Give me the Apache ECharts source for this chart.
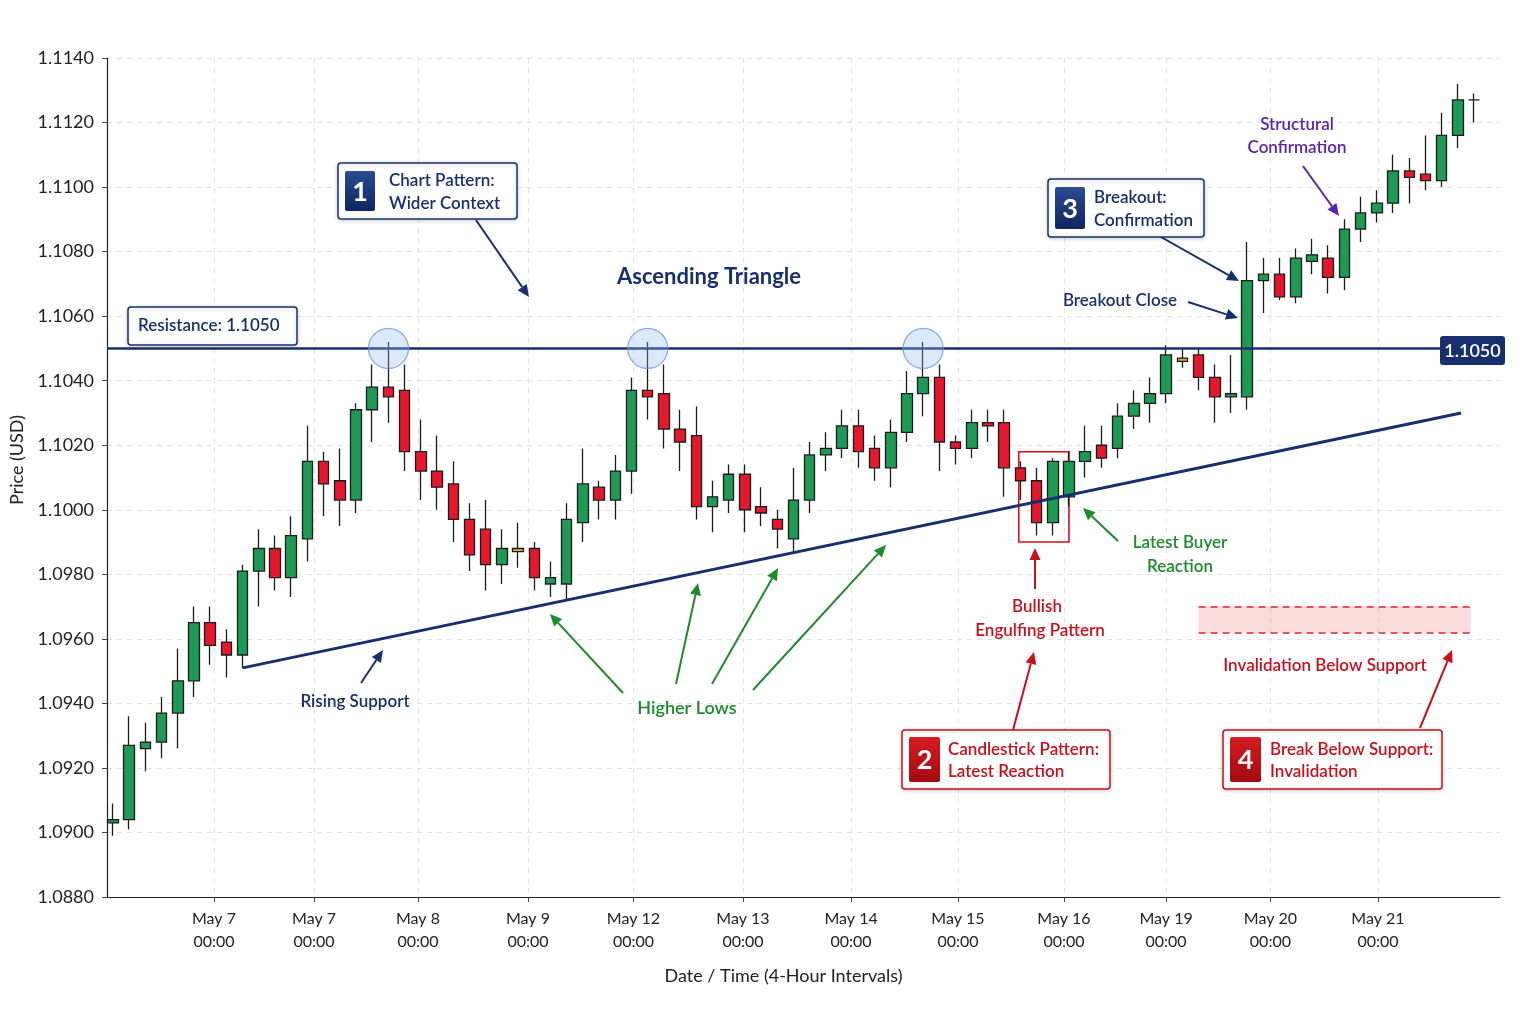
<!DOCTYPE html>
<html>
<head>
<meta charset="utf-8">
<title>Ascending Triangle</title>
<script src="https://cdn.jsdelivr.net/npm/echarts@6.0.0/dist/echarts.min.js"></script>
<style>
  html, body { margin: 0; padding: 0; background: #fff; }
  #chart { width: 1536px; height: 1024px; }
</style>
</head>
<body>
<div id="chart"></div>
<script>
// 4-hour candles (index = candle number)
const opens = [
  1.0903, 1.0904, 1.0926, 1.0928, 1.0937, 1.0947, 1.0965, 1.0959, 1.0955, 1.0981,
  1.0988, 1.0979, 1.0991, 1.1015, 1.1009, 1.1003, 1.1031, 1.1038, 1.1037, 1.1018,
  1.1012, 1.1008, 1.0997, 1.0994, 1.0983, 1.0988, 1.0988, 1.0977, 1.0977, 1.0996,
  1.1007, 1.1003, 1.1012, 1.1037, 1.1036, 1.1025, 1.1023, 1.1001, 1.1003, 1.1011,
  1.1001, 1.0997, 1.0991, 1.1003, 1.1017, 1.1019, 1.1026, 1.1019, 1.1013, 1.1024,
  1.1036, 1.1041, 1.1021, 1.1019, 1.1027, 1.1027, 1.1013, 1.1009, 1.0996, 1.1004,
  1.1015, 1.1020, 1.1019, 1.1029, 1.1033, 1.1036, 1.1047, 1.1048, 1.1041, 1.1035,
  1.1035, 1.1071, 1.1073, 1.1066, 1.1077, 1.1078, 1.1072, 1.1087, 1.1092, 1.1095,
  1.1105, 1.1104, 1.1102, 1.1116, 1.1127
];
const closes = [
  1.0904, 1.0927, 1.0928, 1.0937, 1.0947, 1.0965, 1.0958, 1.0955, 1.0981, 1.0988,
  1.0979, 1.0992, 1.1015, 1.1008, 1.1003, 1.1031, 1.1038, 1.1035, 1.1018, 1.1012,
  1.1007, 1.0997, 1.0986, 1.0983, 1.0988, 1.0987, 1.0979, 1.0979, 1.0997, 1.1008,
  1.1003, 1.1012, 1.1037, 1.1035, 1.1025, 1.1021, 1.1001, 1.1004, 1.1011, 1.1000,
  1.0999, 1.0994, 1.1003, 1.1017, 1.1019, 1.1026, 1.1018, 1.1013, 1.1024, 1.1036,
  1.1041, 1.1021, 1.1019, 1.1027, 1.1026, 1.1013, 1.1009, 1.0996, 1.1015, 1.1015,
  1.1018, 1.1016, 1.1029, 1.1033, 1.1036, 1.1048, 1.1046, 1.1041, 1.1035, 1.1036,
  1.1071, 1.1073, 1.1066, 1.1078, 1.1079, 1.1072, 1.1087, 1.1092, 1.1095, 1.1105,
  1.1103, 1.1102, 1.1116, 1.1127, 1.1127
];
const lows = [
  1.0899, 1.0901, 1.0919, 1.0923, 1.0926, 1.0942, 1.0952, 1.0948, 1.0951, 1.0970,
  1.0975, 1.0973, 1.0984, 1.0998, 1.0995, 1.0999, 1.1021, 1.1027, 1.1012, 1.1003,
  1.1000, 1.0990, 1.0981, 1.0975, 1.0977, 1.0982, 1.0975, 1.0973, 1.0972, 1.0990,
  1.0997, 1.0997, 1.1005, 1.1028, 1.1019, 1.1012, 1.0997, 1.0993, 1.0999, 1.0993,
  1.0995, 1.0988, 1.0987, 1.0999, 1.1012, 1.1016, 1.1013, 1.1009, 1.1007, 1.1021,
  1.1029, 1.1012, 1.1014, 1.1016, 1.1021, 1.1004, 1.1003, 1.0992, 1.0992, 1.1001,
  1.1010, 1.1013, 1.1016, 1.1025, 1.1027, 1.1033, 1.1044, 1.1037, 1.1027, 1.1030,
  1.1031, 1.1061, 1.1065, 1.1064, 1.1073, 1.1067, 1.1068, 1.1083, 1.1089, 1.1092,
  1.1095, 1.1099, 1.1100, 1.1112, 1.1120
];
const highs = [
  1.0909, 1.0936, 1.0934, 1.0942, 1.0957, 1.0970, 1.0970, 1.0963, 1.0983, 1.0994,
  1.0992, 1.0998, 1.1026, 1.1018, 1.1019, 1.1033, 1.1045, 1.1052, 1.1045, 1.1028,
  1.1023, 1.1015, 1.1002, 1.1003, 1.0994, 1.0996, 1.0990, 1.0984, 1.1002, 1.1019,
  1.1009, 1.1017, 1.1041, 1.1052, 1.1045, 1.1031, 1.1032, 1.1009, 1.1014, 1.1014,
  1.1007, 1.1000, 1.1013, 1.1021, 1.1024, 1.1031, 1.1031, 1.1023, 1.1028, 1.1043,
  1.1052, 1.1045, 1.1023, 1.1031, 1.1031, 1.1031, 1.1015, 1.1013, 1.1016, 1.1018,
  1.1026, 1.1026, 1.1033, 1.1037, 1.1041, 1.1051, 1.1050, 1.1050, 1.1045, 1.1048,
  1.1083, 1.1078, 1.1078, 1.1081, 1.1084, 1.1082, 1.1090, 1.1097, 1.1099, 1.1110,
  1.1109, 1.1116, 1.1123, 1.1132, 1.1129
];

// date ticks on the candle scale
const tickVals = [6.23, 12.41, 18.82, 25.61, 32.12, 38.88, 45.55, 52.15, 58.69, 64.99, 71.43, 78.07];
const tickLabels = ['May 7', 'May 7', 'May 8', 'May 9', 'May 12', 'May 13', 'May 14', 'May 15', 'May 16', 'May 19', 'May 20', 'May 21'];
const tickTimes = ['00:00', '00:00', '00:00', '00:00', '00:00', '00:00', '00:00', '00:00', '00:00', '00:00', '00:00', '00:00'];

const resistance = 1.1050;
const supportFrom = [8, 1.0951];
const supportTo = [83.2, 1.1030];
const touches = [17, 33, 50];
const engulfBox = [[55.9, 1.1018], [59.0, 1.0990]];
const invalidZone = [[67, 1.0970], [83.8, 1.0962]];

const X_MIN = -0.37;
const X_MAX = 85.6;

const NAVY = '#17306d';
const RED = '#c8101c';
const GREEN = '#1e8a2e';
const PURPLE = '#5a22b0';
const FONT = 'Lato, "Noto Sans", sans-serif';

const dojiColor = { 25: '#eab03a', 66: '#d9b23a' };

const candles = opens.map((o, i) => {
  const item = { value: [i, o, closes[i], lows[i], highs[i]] };
  if (dojiColor[i]) {
    item.itemStyle = { color: dojiColor[i], color0: dojiColor[i] };
  }
  return item;
});

function txt(x, y, s, color, size, weight, align) {
  return {
    type: 'text', z: 100,
    style: {
      x: x, y: y, text: s, fill: color,
      font: (weight || '600') + ' ' + size + 'px ' + FONT,
      align: align || 'center', verticalAlign: 'middle'
    }
  };
}

function box(x, y, w, h, color) {
  return {
    type: 'rect', z: 99,
    shape: { x: x, y: y, width: w, height: h, r: 3 },
    style: {
      fill: '#fff', stroke: color, lineWidth: 1.5,
      shadowBlur: 4, shadowColor: 'rgba(0,0,0,0.18)', shadowOffsetY: 1
    }
  };
}

function badge(x, y, w, h, num, c1, c2) {
  return [
    {
      type: 'rect', z: 100,
      shape: { x: x, y: y, width: w, height: h, r: 2 },
      style: {
        fill: new echarts.graphic.LinearGradient(0, 0, 0, 1, [
          { offset: 0, color: c1 }, { offset: 1, color: c2 }
        ])
      }
    },
    txt(x + w / 2, y + h / 2 + 1, num, '#fff', 27, 'bold')
  ];
}

function arrow(x1, y1, x2, y2, color) {
  const a = Math.atan2(y2 - y1, x2 - x1);
  const len = 12, half = 5.5;
  const bx = x2 - len * Math.cos(a), by = y2 - len * Math.sin(a);
  const px = -Math.sin(a) * half, py = Math.cos(a) * half;
  return [
    {
      type: 'line', z: 100,
      shape: { x1: x1, y1: y1, x2: bx, y2: by },
      style: { stroke: color, lineWidth: 2 }
    },
    {
      type: 'polygon', z: 100,
      shape: { points: [[x2, y2], [bx + px, by + py], [bx - px, by - py]] },
      style: { fill: color }
    }
  ];
}

const graphics = [].concat(
  // resistance caption
  box(128, 307, 169, 38, NAVY),
  txt(138, 326, 'Resistance: 1.1050', NAVY, 17, '600', 'left'),
  // right price tag
  {
    type: 'rect', z: 100,
    shape: { x: 1440, y: 336, width: 65, height: 29, r: 3 },
    style: { fill: NAVY }
  },
  txt(1472.5, 351, '1.1050', '#fff', 18, '600'),

  // 1 chart pattern
  box(338, 163, 179, 56, NAVY),
  badge(345, 171, 30, 40, '1', '#2b4b91', '#0e2660'),
  txt(389, 181, 'Chart Pattern:', NAVY, 17, '600', 'left'),
  txt(389, 204, 'Wider Context', NAVY, 17, '600', 'left'),
  arrow(476, 220, 529, 297, NAVY),
  txt(709, 277, 'Ascending Triangle', NAVY, 22, 'bold'),

  // rising support / higher lows
  txt(355, 702, 'Rising Support', NAVY, 17),
  arrow(361, 683, 383, 650, NAVY),
  txt(687, 708, 'Higher Lows', GREEN, 18),
  arrow(623, 693, 550, 614, GREEN),
  arrow(676, 684, 698, 583, GREEN),
  arrow(712, 684, 778, 568, GREEN),
  arrow(753, 690, 886, 545, GREEN),

  // 2 candlestick pattern
  txt(1037, 607, 'Bullish', RED, 17),
  txt(1040, 631, 'Engulfing Pattern', RED, 17),
  arrow(1035, 589, 1035, 548, RED),
  box(902, 730, 208, 59, RED),
  badge(909, 737, 31, 45, '2', '#d51c22', '#a30a10'),
  txt(948, 750, 'Candlestick Pattern:', RED, 17, '600', 'left'),
  txt(948, 772, 'Latest Reaction', RED, 17, '600', 'left'),
  arrow(1013, 730, 1034, 652, RED),

  txt(1180, 543, 'Latest Buyer', GREEN, 17),
  txt(1180, 567, 'Reaction', GREEN, 17),
  arrow(1118, 541, 1083, 508, GREEN),

  // 4 invalidation
  txt(1325, 666, 'Invalidation Below Support', RED, 17),
  box(1223, 730, 219, 59, RED),
  badge(1230, 737, 31, 45, '4', '#d51c22', '#a30a10'),
  txt(1270, 750, 'Break Below Support:', RED, 17, '600', 'left'),
  txt(1270, 772, 'Invalidation', RED, 17, '600', 'left'),
  arrow(1420, 728, 1452, 650, RED),

  // 3 breakout
  box(1048, 179, 156, 58, NAVY),
  badge(1055, 187, 30, 42, '3', '#2b4b91', '#0e2660'),
  txt(1094, 198, 'Breakout:', NAVY, 17, '600', 'left'),
  txt(1094, 221, 'Confirmation', NAVY, 17, '600', 'left'),
  arrow(1161, 237, 1239, 281, NAVY),
  txt(1120, 301, 'Breakout Close', NAVY, 17),
  arrow(1188, 302, 1238, 318, NAVY),

  txt(1297, 125, 'Structural', PURPLE, 17),
  txt(1297, 148, 'Confirmation', PURPLE, 17),
  arrow(1303, 166, 1339, 216, PURPLE)
);

const chart = echarts.init(document.getElementById('chart'), null, { renderer: 'canvas' });

chart.setOption({
  backgroundColor: '#fff',
  animation: false,
  textStyle: { fontFamily: FONT },
  grid: { left: 107, right: 36, top: 58, bottom: 127 },
  xAxis: {
    type: 'value',
    min: X_MIN,
    max: X_MAX,
    name: 'Date / Time (4-Hour Intervals)',
    nameLocation: 'middle',
    nameGap: 70,
    nameTextStyle: { fontSize: 18, color: '#222', fontFamily: FONT, padding: [0, 40, 0, 0] },
    axisLine: { show: true, onZero: false, lineStyle: { color: '#222', width: 1.2 } },
    axisTick: { show: true, customValues: tickVals, length: 5, lineStyle: { color: '#444' } },
    axisLabel: {
      customValues: tickVals,
      color: '#222',
      fontSize: 16,
      lineHeight: 23,
      margin: 10,
      fontFamily: FONT,
      formatter: function (v) {
        const k = tickVals.findIndex(t => Math.abs(t - v) < 1e-6);
        return k < 0 ? '' : tickLabels[k] + '\n' + tickTimes[k];
      }
    },
    splitLine: { show: true, lineStyle: { color: '#e3e3e3', type: [5, 5] } }
  },
  yAxis: {
    type: 'value',
    min: 1.088,
    max: 1.114,
    interval: 0.002,
    name: 'Price (USD)',
    nameLocation: 'middle',
    nameGap: 80,
    nameTextStyle: { fontSize: 18, color: '#222', fontFamily: FONT, padding: [0, 0, 0, 35] },
    axisLine: { show: true, onZero: false, lineStyle: { color: '#222', width: 1.2 } },
    axisTick: { show: true, length: 5, lineStyle: { color: '#444' } },
    axisLabel: {
      color: '#222',
      fontSize: 18,
      margin: 13,
      fontFamily: FONT,
      formatter: v => v.toFixed(4)
    },
    splitLine: { show: true, lineStyle: { color: '#e3e3e3', type: [5, 5] } }
  },
  series: [
    {
      type: 'candlestick',
      data: candles,
      barWidth: 11,
      itemStyle: {
        color: '#1f9a55',
        color0: '#e3172d',
        borderColor: '#1b1b1b',
        borderColor0: '#1b1b1b',
        borderColorDoji: '#1b1b1b',
        borderWidth: 1.3
      },
      markLine: {
        silent: true,
        symbol: ['none', 'none'],
        label: { show: false },
        data: [
          [
            { coord: [X_MIN, resistance], lineStyle: { color: NAVY, width: 2.5, type: 'solid' } },
            { coord: [X_MAX, resistance] }
          ],
          [
            { coord: supportFrom, lineStyle: { color: NAVY, width: 3, type: 'solid' } },
            { coord: supportTo }
          ],
          [
            { coord: [invalidZone[0][0], invalidZone[0][1]], lineStyle: { color: '#e0222c', width: 1.6, type: [7, 5] } },
            { coord: [invalidZone[1][0], invalidZone[0][1]] }
          ],
          [
            { coord: [invalidZone[0][0], invalidZone[1][1]], lineStyle: { color: '#e0222c', width: 1.6, type: [7, 5] } },
            { coord: [invalidZone[1][0], invalidZone[1][1]] }
          ]
        ]
      },
      markArea: {
        silent: true,
        data: [
          [
            { coord: engulfBox[0], itemStyle: { color: 'rgba(0,0,0,0)', borderColor: '#d0101c', borderWidth: 1.6 } },
            { coord: engulfBox[1] }
          ],
          [
            { coord: invalidZone[0], itemStyle: { color: 'rgba(240,140,140,0.3)' } },
            { coord: invalidZone[1] }
          ]
        ]
      },
      markPoint: {
        silent: true,
        symbol: 'circle',
        symbolSize: 40,
        label: { show: false },
        itemStyle: {
          color: 'rgba(150,185,240,0.32)',
          borderColor: 'rgba(95,140,225,0.75)',
          borderWidth: 1.2
        },
        data: touches.map(i => ({ coord: [i, resistance] }))
      }
    }
  ],
  graphic: graphics
});
</script>
</body>
</html>
